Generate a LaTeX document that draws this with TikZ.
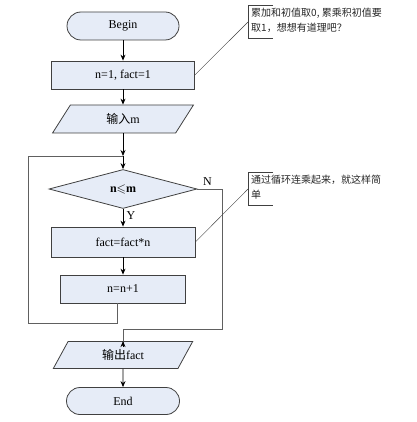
\documentclass[tikz,border=0pt]{standalone}
\usepackage{fontspec}
\usepackage{amssymb}
\setmainfont{Liberation Serif}
\newfontfamily\cjk{Noto Sans CJK SC}
\usetikzlibrary{shapes.geometric, arrows, arrows.meta}
\definecolor{boxfill}{HTML}{E6ECF7}
\definecolor{boxline}{HTML}{404040}
\definecolor{wire}{HTML}{606060}

\begin{document}
\begin{tikzpicture}[x=1pt,y=-1pt]
\tikzstyle{every node}=[font=\fontsize{12}{14}\selectfont]
\tikzstyle{block}=[draw=boxline, fill=boxfill, thick, inner sep=0pt, minimum height=28pt]
\tikzstyle{terminal}=[block, rectangle, rounded corners=14pt]
\tikzstyle{process}=[block, rectangle]
\tikzstyle{io}=[block, trapezium, trapezium stretches=true, trapezium left angle=63, trapezium right angle=117]
\tikzstyle{decision}=[block, diamond, minimum height=39pt]
\tikzstyle{flow}=[draw, -{Stealth[length=6pt,width=5pt]}, thick]
\tikzstyle{back}=[draw=wire, thick]
\tikzstyle{note}=[font=\fontsize{10}{15}\selectfont\cjk, align=left, anchor=north west, inner sep=0pt, text=black!85]

\useasboundingbox (0,0) rectangle (416,422);

\node[terminal, minimum width=112pt] at (123,26) (begin) {Begin};
\node[process, minimum width=143pt] at (123,75) (init) {n=1, fact=1};
\node[io, minimum width=141pt] at (123,119) (inp) {{\cjk 输入}m};
\node[decision, minimum width=148pt] at (123,189) (cond) {\textbf{n}$\leqslant$\textbf{m}};
\node[process, minimum width=144pt, minimum height=30pt] at (123,242) (mult) {fact=fact*n};
\node[process, minimum width=125pt] at (123,289) (inc) {n=n+1};
\node[io, minimum width=140pt, minimum height=27pt] at (123,355) (out) {{\cjk 输出}fact};
\node[terminal, minimum width=113pt, minimum height=27pt, rounded corners=13.5pt] at (123,401) (stop) {End};

\coordinate (join) at (123,156);
\coordinate (loopcorner) at (28,323);
\coordinate (exitcorner) at (222,329);

\draw[flow] (begin) -- (init);
\draw[flow] (init) -- (inp);
\draw[flow] (inp) -- (join);
\draw[flow] (join) -- (cond);
\draw[flow] (cond) -- node[right, pos=0.35] {Y} (mult);
\draw[flow] (mult) -- (inc);
\draw[back] ([xshift=-6pt]inc.south) |- (loopcorner) |- (join);
\draw[back] (cond.east) node[above right, xshift=2pt] {N} -| (exitcorner) -| ([yshift=-6pt]out.north);
\draw[flow] ([yshift=-6pt]out.north) -- (out.north);
\draw[flow] (out) -- (stop);

% callouts
\coordinate (note1) at (248,22);
\coordinate (note2) at (248,189);
\draw[boxline] (273,5) -- (248,5) -- (248,38) -- (273,38);
\node[note] at (251,8) (note1text) {累加和初值取0, 累乘积初值要\\取1，想想有道理吧？};
\draw[boxline] (init.east) -- (note1);
\draw[boxline] (273,172) -- (248,172) -- (248,205) -- (273,205);
\node[note] at (251,175) (note2text) {通过循环连乘起来，就这样简\\单};
\draw[boxline] (mult.east) -- (note2);
\end{tikzpicture}
\end{document}
